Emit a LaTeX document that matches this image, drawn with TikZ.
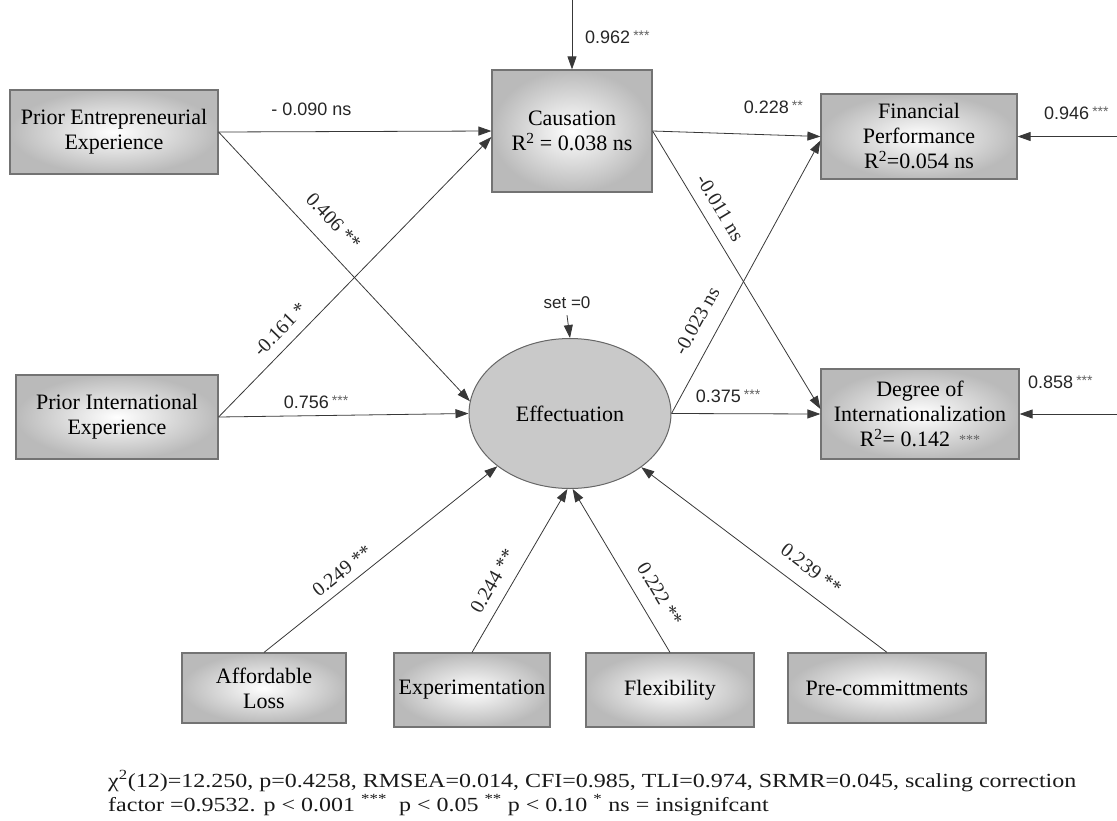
\documentclass[tikz,border=0pt]{standalone}
\usepackage{fontspec}
\setmainfont{Liberation Serif}
\setsansfont{Liberation Sans}
\usetikzlibrary{arrows.meta,shapes.geometric}

% significance stars in the sans-serif path coefficients
\newcommand\sigstars[1]{\,{\fontsize{14}{14}\selectfont\textcolor{black!62}{\raisebox{2.5pt}{#1}}}}

\tikzset{
  construct/.style={rectangle, draw=black!55, line width=1.2pt,
    inner color=white, outer color=black!27,
    align=center, inner sep=0pt, font=\fontsize{22}{25}\selectfont},
  latent/.style={ellipse, draw=black!60, line width=1pt, fill=black!21,
    inner sep=0pt, minimum width=202pt, minimum height=150pt,
    font=\fontsize{22}{25}\selectfont},
  pathline/.style={draw=black!78, line width=0.8pt,
    -{Triangle[length=13pt,width=9pt]}},
  coef/.style={font=\sffamily\fontsize{18}{20}\selectfont, text=black!85, inner sep=1pt},
  scoef/.style={font=\fontsize{20}{22}\selectfont, text=black!85, sloped, inner sep=1pt},
}

\begin{document}
\begin{tikzpicture}[x=1pt,y=-1pt]
\useasboundingbox (0,0) rectangle (1117,820);

% observed constructs
\node[construct, minimum width=208pt, minimum height=84pt] (pee) at (114,132)
  {Prior Entrepreneurial\\Experience};
\node[construct, minimum width=202pt, minimum height=84pt] (pie) at (117,417)
  {Prior International\\Experience};
\node[construct, minimum width=160pt, minimum height=122pt] (caus) at (572,131)
  {Causation\\R\textsuperscript{2} = 0.038 ns};
\node[construct, minimum width=196pt, minimum height=85pt] (fin) at (919,136.5)
  {Financial\\Performance\\R\textsuperscript{2}=0.054 ns};
\node[construct, minimum width=198pt, minimum height=90pt] (deg) at (920,414)
  {Degree of\\Internationalization\\R\textsuperscript{2}= 0.142 \sigstars{***}};

% effectuation dimensions
\node[construct, minimum width=164pt, minimum height=70pt] (al) at (264,688)
  {Affordable\\Loss};
\node[construct, minimum width=156pt, minimum height=74pt] (exp) at (472,690)
  {Experimentation};
\node[construct, minimum width=168pt, minimum height=74pt] (flex) at (670,690)
  {Flexibility};
\node[construct, minimum width=198pt, minimum height=70pt] (pre) at (887,688)
  {Pre-committments};

% latent factor
\node[latent] (eff) at (570,413.5) {Effectuation};

% residual terms
\coordinate (causerr) at (572,0);
\coordinate (finerr) at (1117,136.5);
\coordinate (degerr) at (1117,414);
\draw[pathline] (causerr) -- (caus.north);
\draw[pathline] (finerr) -- (fin.east);
\draw[pathline] (degerr) -- (deg.east);
\node[coef, anchor=west] (causres) at (584,37) {0.962\sigstars{***}};
\node[coef, anchor=west] (finres) at (1043,113) {0.946\sigstars{***}};
\node[coef, anchor=west] (degres) at (1027,382) {0.858\sigstars{***}};

\node[coef, font=\sffamily\fontsize{17}{19}\selectfont] (setzero) at (567,303) {set =0};
\draw[pathline] ([yshift=-5pt]setzero.south) -- (eff.north);

% structural paths
\draw[pathline] (pee.east) -- (caus.west)
  node[coef, pos=0.34, above=15pt] {- 0.090 ns};
\draw[pathline] (pee.east) -- (eff.173)
  node[scoef, pos=0.39, above=15pt] {0.406 **};
\draw[pathline] (pie.east) -- ([yshift=-6pt]caus.west)
  node[scoef, pos=0.27, above=9pt] {-0.161 *};
\draw[pathline] (pie.east) -- (eff.west)
  node[coef, pos=0.39, above=6pt] {0.756\sigstars{***}};

\draw[pathline] (caus.east) -- (fin.west)
  node[coef, pos=0.72, above=20pt] {0.228\sigstars{**}};
\draw[pathline] (caus.east) -- ([yshift=5pt]deg.west)
  node[scoef, pos=0.31, above=10pt] {-0.011 ns};
\draw[pathline] (eff.east) -- ([yshift=-4pt]fin.west)
  node[scoef, pos=0.30, above=14pt] {-0.023 ns};
\draw[pathline] (eff.east) -- (deg.west)
  node[coef, pos=0.38, above=10pt] {0.375\sigstars{***}};

\draw[pathline] (al.north) -- (eff.216)
  node[scoef, pos=0.375, above=7pt] {0.249 **};
\draw[pathline] (exp.north) -- (eff.268)
  node[scoef, pos=0.38, above=10pt] {0.244 **};
\draw[pathline, {Triangle[length=13pt,width=9pt]}-] (eff.272) -- (flex.north)
  node[scoef, pos=0.71, above=13pt] {0.222 **};
\draw[pathline, {Triangle[length=13pt,width=9pt]}-] (eff.323) -- (pre.north)
  node[scoef, pos=0.64, above=13pt] {0.239 **};

% fit statistics
\node[anchor=base west, inner sep=0pt, text=black!90,
      font=\fontsize{20}{24}\selectfont] (fit) at (108,787)
  {\scalebox{1.2}[1]{\begin{tabular}[t]{@{}l@{}}
   χ\textsuperscript{2}(12)=12.250, p=0.4258, RMSEA=0.014, CFI=0.985, TLI=0.974, SRMR=0.045, scaling correction\\
   factor =0.9532. p {\textless} 0.001 \textsuperscript{***}\ \ p {\textless} 0.05 \textsuperscript{**} p {\textless} 0.10 \textsuperscript{*} ns = insignifcant
   \end{tabular}}};
\end{tikzpicture}
\end{document}
